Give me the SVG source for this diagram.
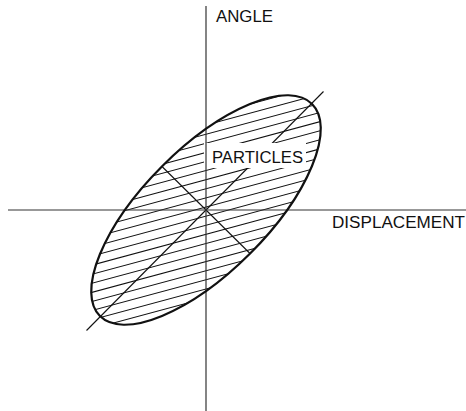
<svg xmlns="http://www.w3.org/2000/svg" width="466" height="411" viewBox="0 0 466 411">
<defs>
<clipPath id="clip"><ellipse cx="206" cy="210" rx="150" ry="62" transform="rotate(-45 206 210)"/></clipPath>
<style>
.axis{stroke:#333;stroke-width:1.2;fill:none}
.hatch{stroke:#111;stroke-width:1;fill:none}
.line{stroke:#111;stroke-width:1.1;fill:none}
.lbl{font-family:"Liberation Sans",Arial,sans-serif;font-size:16px;fill:#111}
</style>
</defs>
<rect width="466" height="411" fill="#fff"/>
<g id="connectors">
<g id="hatching" clip-path="url(#clip)">
<g transform="rotate(-15.1 206 207)" class="hatch">
<path d="M40 75.1H372M40 83.9H372M40 92.7H372M40 101.5H372M40 110.3H372M40 119.1H372M40 127.9H372M40 136.7H372M40 145.5H372M40 154.3H372M40 163.1H372M40 171.8H372M40 180.6H372M40 189.4H372M40 198.2H372M40 207H372M40 215.8H372M40 224.6H372M40 233.4H372M40 242.2H372M40 251H372M40 259.7H372M40 268.5H372M40 277.3H372M40 286.1H372M40 294.9H372M40 303.7H372M40 312.5H372M40 321.3H372M40 330.1H372M40 338.9H372"/>
</g>
</g>
<line id="major-axis" class="line" x1="86.5" y1="330.5" x2="323.5" y2="91.5"/>
<line id="minor-axis" class="line" x1="162" y1="166.5" x2="250" y2="253.5"/>
<rect x="204" y="143" width="102" height="25" fill="#fff"/>
<line id="x-axis" class="axis" x1="8" y1="210" x2="466" y2="210"/>
<line id="y-axis" class="axis" x1="206" y1="6" x2="206" y2="411"/>
</g>
<g id="beam-ellipse">
<ellipse cx="206" cy="210" rx="150" ry="62" transform="rotate(-45 206 210)" fill="none" stroke="#111" stroke-width="2.2"/>
</g>
<g id="label-angle"><text class="lbl" x="216" y="21.7" textLength="57" lengthAdjust="spacingAndGlyphs">ANGLE</text></g>
<g id="label-displacement"><text class="lbl" x="332" y="228.3" textLength="133" lengthAdjust="spacingAndGlyphs">DISPLACEMENT</text></g>
<g id="label-particles"><text class="lbl" x="212" y="162.6" textLength="91" lengthAdjust="spacingAndGlyphs">PARTICLES</text></g>
</svg>
